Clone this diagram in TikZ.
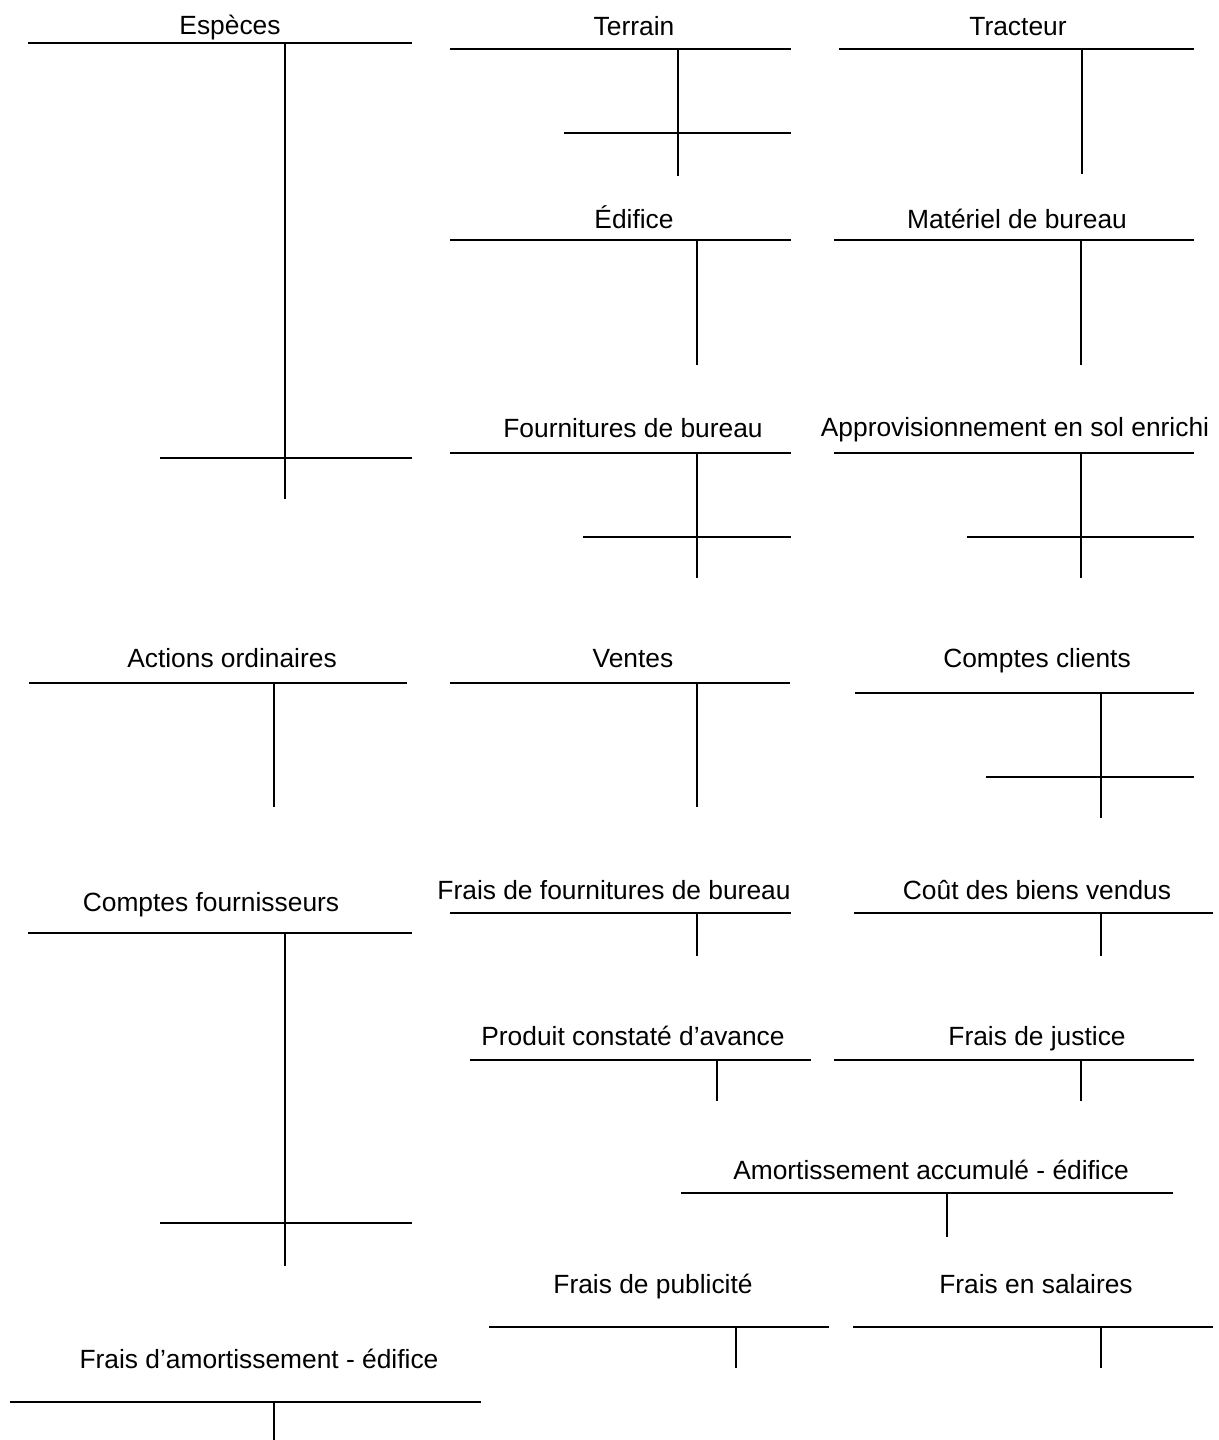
\documentclass[tikz,border=0pt]{standalone}
\usepackage{fontspec}
\setmainfont{Liberation Sans}
\tikzset{
    titre/.style = {anchor=base, inner sep=0pt, font=\fontsize{15}{18}\selectfont},
    trait/.style = {line width=1.1pt, draw=black},
    colonne/.style = {line width=1.0pt, draw=black},
}
\begin{document}
\begin{tikzpicture}[x=0.02cm, y=-0.02cm]
\useasboundingbox (0,0) rectangle (1219,1440);
%
\node[titre] at (230,34) (especes) {Espèces};
\node[titre] at (634,35) (terrain) {Terrain};
\node[titre] at (1018,35) (tracteur) {Tracteur};
\node[titre] at (634,228) (edifice) {Édifice};
\node[titre] at (1017,228) (materiel) {Matériel de bureau};
\node[titre] at (633,437) (fournitures) {Fournitures de bureau};
\node[titre] at (1015,436) (appro) {Approvisionnement en sol enrichi};
\node[titre] at (232,667) (actions) {Actions ordinaires};
\node[titre] at (633,667) (ventes) {Ventes};
\node[titre] at (1037,667) (clients) {Comptes clients};
\node[titre] at (211,911) (fournisseurs) {Comptes fournisseurs};
\node[titre] at (614,899) (fraisfourn) {Frais de fournitures de bureau};
\node[titre] at (1037,899) (cout) {Coût des biens vendus};
\node[titre] at (633,1045) (produit) {Produit constaté d’avance};
\node[titre] at (1037,1045) (justice) {Frais de justice};
\node[titre] at (931,1179) (amortacc) {Amortissement accumulé - édifice};
\node[titre] at (653,1293) (pub) {Frais de publicité};
\node[titre] at (1036,1293) (salaires) {Frais en salaires};
\node[titre] at (259,1368) (fraisamort) {Frais d’amortissement - édifice};
%
\draw[trait] (28,43) -- (412,43);
\draw[colonne] (285,43) -- (285,499);
\draw[trait] (160,458) -- (412,458);
\draw[trait] (450,49) -- (791,49);
\draw[colonne] (678,49) -- (678,176);
\draw[trait] (564,133) -- (791,133);
\draw[trait] (839,49) -- (1194,49);
\draw[colonne] (1082,49) -- (1082,174);
\draw[trait] (450,240) -- (791,240);
\draw[colonne] (697,240) -- (697,365);
\draw[trait] (834,240) -- (1194,240);
\draw[colonne] (1081,240) -- (1081,365);
\draw[trait] (450,453) -- (791,453);
\draw[colonne] (697,453) -- (697,578);
\draw[trait] (583,537) -- (791,537);
\draw[trait] (834,453) -- (1194,453);
\draw[colonne] (1081,453) -- (1081,578);
\draw[trait] (967,537) -- (1194,537);
%
\draw[trait] (29,683) -- (407,683);
\draw[colonne] (274,683) -- (274,807);
\draw[trait] (450,683) -- (790,683);
\draw[colonne] (697,683) -- (697,807);
\draw[trait] (855,693) -- (1194,693);
\draw[colonne] (1101,693) -- (1101,818);
\draw[trait] (986,777) -- (1194,777);
%
\draw[trait] (28,933) -- (412,933);
\draw[colonne] (285,933) -- (285,1266);
\draw[trait] (160,1223) -- (412,1223);
\draw[trait] (450,913) -- (791,913);
\draw[colonne] (697,913) -- (697,956);
\draw[trait] (854,913) -- (1213,913);
\draw[colonne] (1101,913) -- (1101,956);
\draw[trait] (470,1060) -- (811,1060);
\draw[colonne] (717,1060) -- (717,1101);
\draw[trait] (834,1060) -- (1194,1060);
\draw[colonne] (1081,1060) -- (1081,1101);
\draw[trait] (681,1193) -- (1173,1193);
\draw[colonne] (947,1193) -- (947,1237);
\draw[trait] (489,1327) -- (829,1327);
\draw[colonne] (736,1327) -- (736,1368);
\draw[trait] (853,1327) -- (1213,1327);
\draw[colonne] (1101,1327) -- (1101,1368);
\draw[trait] (10,1402) -- (481,1402);
\draw[colonne] (274,1402) -- (274,1440);
\end{tikzpicture}
\end{document}
